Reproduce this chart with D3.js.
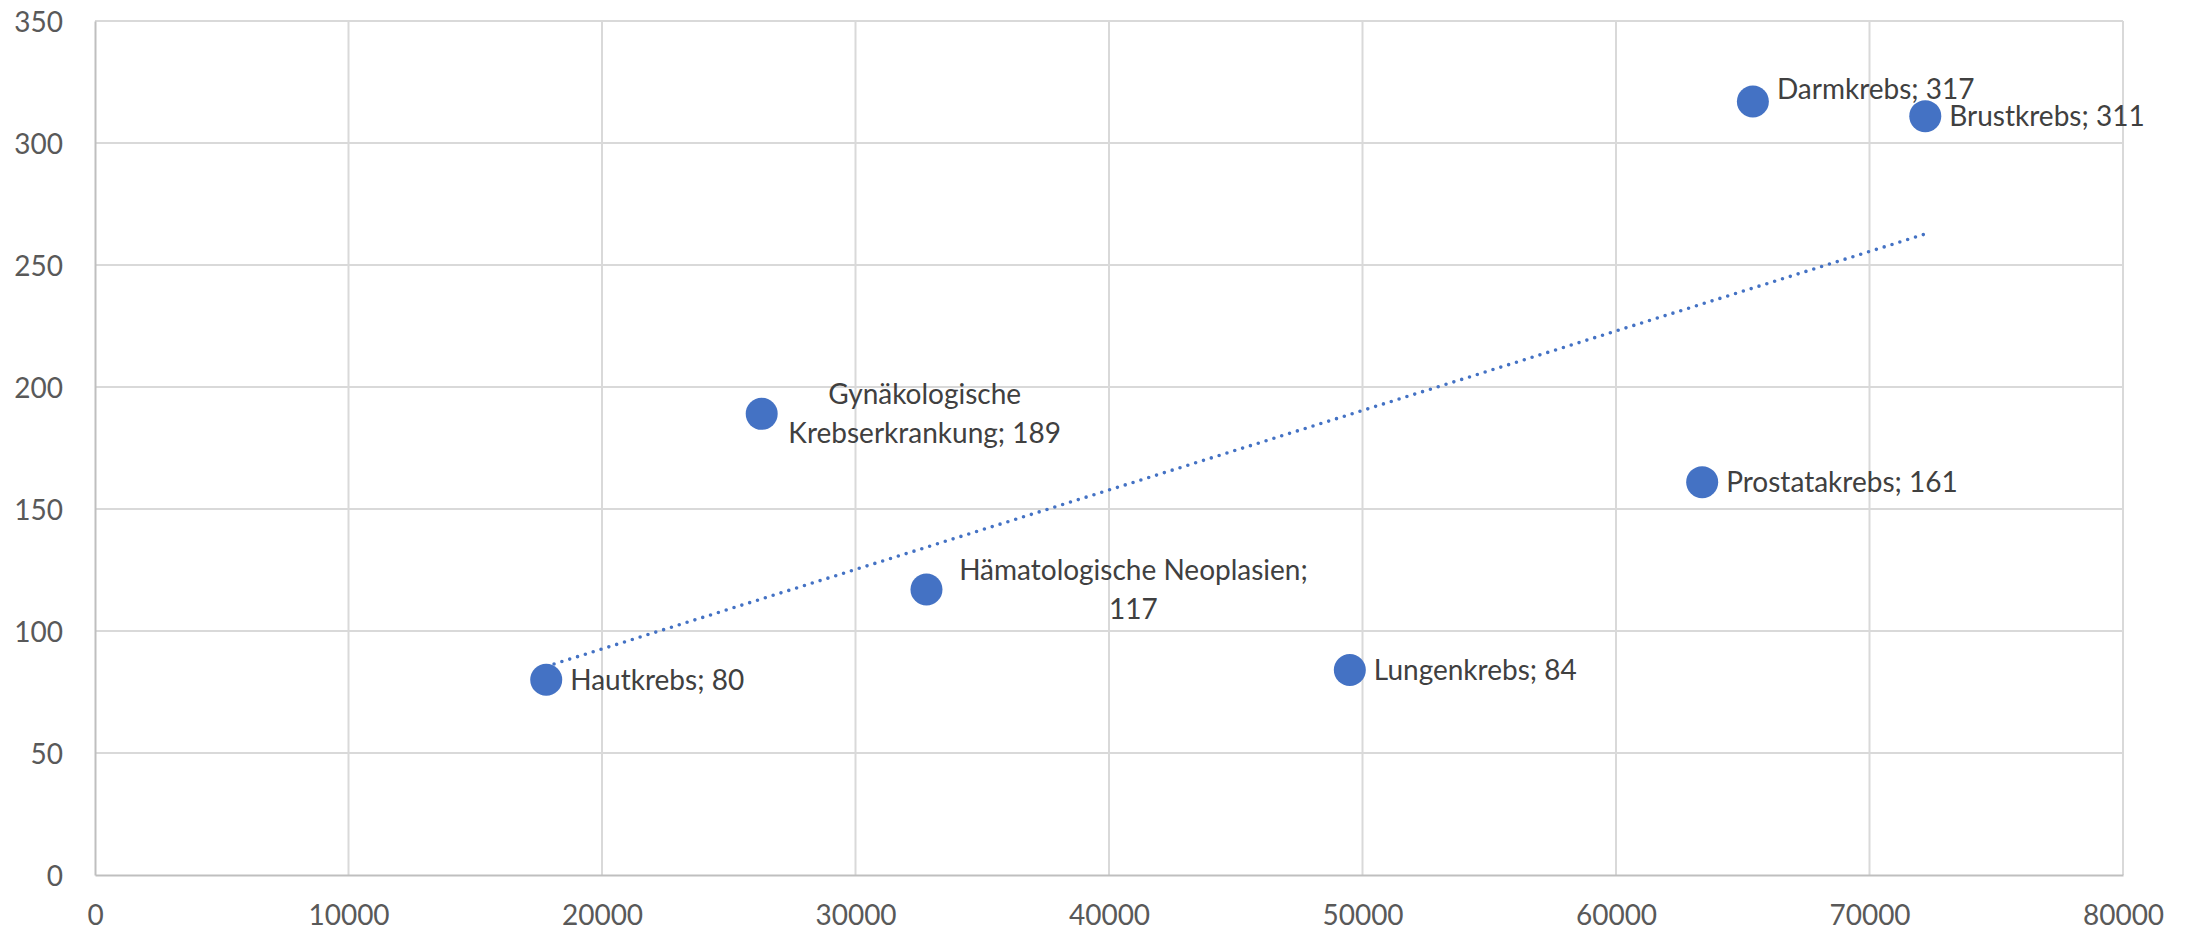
<!DOCTYPE html>
<html>
<head>
<meta charset="utf-8">
<script src="https://cdn.jsdelivr.net/npm/d3@7"></script>
<style>
  body { margin: 0; background: #fff; }
  svg { display: block; font-family: Lato, sans-serif; }
</style>
</head>
<body>
<div id="chart"></div>
<script>
// data
var names = ['Hautkrebs', 'Gynäkologische Krebserkrankung', 'Hämatologische Neoplasien',
  'Lungenkrebs', 'Prostatakrebs', 'Darmkrebs', 'Brustkrebs'];
var xValues = [17800, 26300, 32800, 49500, 63400, 65400, 72200];
var yValues = [80, 189, 117, 84, 161, 317, 311];
var xTicks = [0, 10000, 20000, 30000, 40000, 50000, 60000, 70000, 80000];
var yTicks = [0, 50, 100, 150, 200, 250, 300, 350];

// label layout: how each label wraps and where it sits relative to its point
var labelLines = [
  ['Hautkrebs; 80'],
  ['Gynäkologische', 'Krebserkrankung; 189'],
  ['Hämatologische Neoplasien;', '117'],
  ['Lungenkrebs; 84'],
  ['Prostatakrebs; 161'],
  ['Darmkrebs; 317'],
  ['Brustkrebs; 311']
];
var labelCenterDx = [null, 163, 207, null, null, null, null];
var labelDy = [0, 0, 0, 0, 0, -13, 0];

var W = 2190, H = 931;
var margin = {left: 95, right: 67, top: 21, bottom: 56};
var FONT = 'Lato, "Open Sans", sans-serif';

var svg = d3.select('#chart').append('svg')
  .attr('width', W)
  .attr('height', H);

var x = d3.scaleLinear().domain([0, 80000]).range([margin.left, W - margin.right]);
var y = d3.scaleLinear().domain([0, 350]).range([H - margin.bottom, margin.top]);

// gridlines
svg.append('g').selectAll('line.h').data(yTicks.slice(1)).enter().append('line')
  .attr('x1', x(0)).attr('x2', x(80000))
  .attr('y1', function(d) { return y(d); }).attr('y2', function(d) { return y(d); })
  .attr('stroke', '#d9d9d9').attr('stroke-width', 2);
svg.append('g').selectAll('line.v').data(xTicks.slice(1)).enter().append('line')
  .attr('y1', y(0)).attr('y2', y(350))
  .attr('x1', function(d) { return x(d); }).attr('x2', function(d) { return x(d); })
  .attr('stroke', '#d9d9d9').attr('stroke-width', 2);

// axes
var xAxis = svg.append('g')
  .attr('transform', 'translate(0,' + y(0) + ')')
  .call(d3.axisBottom(x).tickValues(xTicks).tickSize(0).tickPadding(30).tickFormat(d3.format('d')));
var yAxis = svg.append('g')
  .attr('transform', 'translate(' + x(0) + ',0)')
  .call(d3.axisLeft(y).tickValues(yTicks).tickSize(0).tickPadding(32).tickFormat(d3.format('d')));

[xAxis, yAxis].forEach(function(a) {
  a.select('.domain').attr('stroke', '#bfbfbf').attr('stroke-width', 2);
  a.selectAll('text')
    .attr('fill', '#595959')
    .style('font-family', FONT)
    .style('font-size', '28px');
});
yAxis.selectAll('text').attr('dy', '0.36em');
xAxis.selectAll('text').attr('dy', '0.7em');

// linear trendline (least squares)
var mx = d3.mean(xValues), my = d3.mean(yValues);
var sxy = d3.sum(xValues, function(v, i) { return (v - mx) * (yValues[i] - my); });
var sxx = d3.sum(xValues, function(v) { return (v - mx) * (v - mx); });
var slope = sxy / sxx, intercept = my - slope * mx;
var x0 = d3.min(xValues), x1 = d3.max(xValues);

svg.append('line')
  .attr('x1', x(x0)).attr('y1', y(intercept + slope * x0))
  .attr('x2', x(x1)).attr('y2', y(intercept + slope * x1))
  .attr('stroke', '#4472c4')
  .attr('stroke-width', 3.6)
  .attr('stroke-linecap', 'round')
  .attr('stroke-dasharray', '0 8.2');

// points
svg.append('g').selectAll('circle').data(xValues).enter().append('circle')
  .attr('cx', function(d) { return x(d); })
  .attr('cy', function(d, i) { return y(yValues[i]); })
  .attr('r', 16)
  .attr('fill', '#4472c4');

// labels
var labels = svg.append('g')
  .style('font-family', FONT)
  .style('font-size', '28px')
  .attr('fill', '#404040');

xValues.forEach(function(xv, i) {
  var cx = x(xv), cy = y(yValues[i]) + labelDy[i];
  var lines = labelLines[i];
  var t = labels.append('text');
  if (lines.length === 1) {
    t.attr('x', cx + 24).attr('y', cy).attr('dy', '0.36em').text(lines[0]);
  } else {
    var lh = 39;
    t.attr('text-anchor', 'middle');
    lines.forEach(function(s, k) {
      t.append('tspan')
        .attr('x', cx + labelCenterDx[i])
        .attr('y', cy + (k - (lines.length - 1) / 2) * lh)
        .attr('dy', '0.36em')
        .text(s);
    });
  }
});
</script>
</body>
</html>
